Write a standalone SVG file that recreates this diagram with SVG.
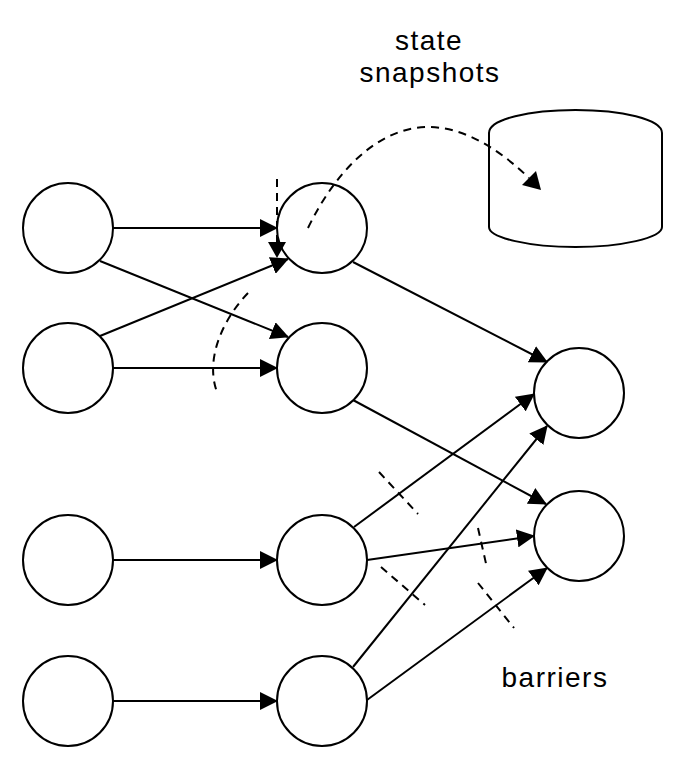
<svg xmlns="http://www.w3.org/2000/svg" width="686" height="770" viewBox="0 0 686 770">
<defs>
<style>
.node{fill:#fff;stroke:#000;stroke-width:2}
.edge{fill:none;stroke:#000;stroke-width:2;marker-end:url(#arrow)}
.dash{fill:none;stroke:#000;stroke-width:2;stroke-dasharray:8 6}
.lbl{font-family:"Liberation Sans",Arial,sans-serif;font-size:28px;fill:#000;letter-spacing:1.5px;text-anchor:middle}
</style>
<marker id="arrow" markerUnits="userSpaceOnUse" markerWidth="18" markerHeight="18" viewBox="0 0 18 18" refX="17" refY="9" orient="auto">
<path d="M0,0 L18,9 L0,18 Z" fill="#000" stroke="none"/>
</marker>
</defs>
<rect width="686" height="770" fill="#fff"/>
<g id="A1"><circle class="node" cx="68" cy="228" r="45"/></g>
<g id="A2"><circle class="node" cx="68" cy="368" r="45"/></g>
<g id="A3"><circle class="node" cx="68" cy="560" r="45"/></g>
<g id="A4"><circle class="node" cx="68" cy="701" r="45"/></g>
<g id="B1"><circle class="node" cx="322" cy="228" r="45"/></g>
<g id="B2"><circle class="node" cx="322" cy="368" r="45"/></g>
<g id="B3"><circle class="node" cx="322" cy="560" r="45"/></g>
<g id="B4"><circle class="node" cx="322" cy="701" r="45"/></g>
<g id="C1"><circle class="node" cx="579" cy="393" r="45"/></g>
<g id="C2"><circle class="node" cx="579" cy="536" r="45"/></g>
<g id="store"><path class="node" d="M489,227 L489,133 C489,119 530,110 575.5,110 C621,110 662,119 662,133 L662,227 C662,238 621,247 575.5,247 C530,247 489,238 489,227 Z"/></g>
<g id="connectors">
<path class="edge" d="M113,228 L277,228"/>
<path class="edge" d="M100,261 L288,337"/>
<path class="edge" d="M100,336 L288,259"/>
<path class="edge" d="M113,368 L277,368"/>
<path class="edge" d="M113,560 L277,560"/>
<path class="edge" d="M113,701 L277,701"/>
<path class="edge" d="M353,262 L547,362"/>
<path class="edge" d="M353,400 L546,504"/>
<path class="edge" d="M354,527 L534,394"/>
<path class="edge" d="M367,560 L534,536"/>
<path class="edge" d="M353,667 L547,426"/>
<path class="edge" d="M367,700 L547,568"/>
<path class="dash" d="M277,179 L277,246"/>
<path d="M277,258 L268,242 L286,242 Z" fill="#000"/>
<path class="dash" d="M308,228 C340,162 385,126 430,127 C470,128 505,155 529,178"/>
<path d="M541,190 L522,185 L536,171 Z" fill="#000"/>
<path class="dash" d="M248,293 C222,320 205,360 217,392"/>
<path class="dash" d="M379,472 L418,514"/>
<path class="dash" d="M381,567 L425,605"/>
<path class="dash" d="M478,528 L487,568"/>
<path class="dash" d="M478,583 L514,628"/>
</g>
<g id="labels">
<text class="lbl" x="429" y="50">state</text>
<text class="lbl" x="430" y="82">snapshots</text>
<text class="lbl" x="555" y="687">barriers</text>
</g>
</svg>
